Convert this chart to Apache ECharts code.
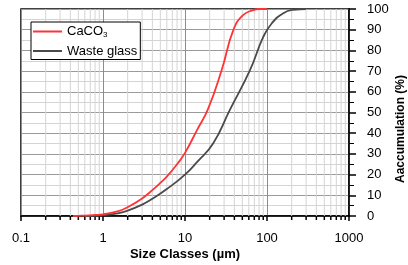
<!DOCTYPE html>
<html>
<head>
<meta charset="utf-8">
<script src="https://cdn.jsdelivr.net/npm/echarts@6/dist/echarts.min.js"></script>
<style>
  html, body { margin: 0; padding: 0; background: #fff; }
  #chart { width: 408px; height: 265px; }
</style>
</head>
<body>
<div id="chart"></div>
<script>
// particle size (µm) vs cumulative passing (%)
const caco3Size = [0.43, 0.5, 0.6, 0.8, 1, 1.5, 2, 3, 4, 5, 6, 8, 10, 14, 19, 28, 39, 51, 68, 80, 100]
const caco3Acc = [0, 0.1, 0.2, 0.5, 0.8, 2.2, 4.3, 8.5, 12.5, 16, 19, 25, 30.5, 41.5, 51.5, 70.5, 90, 97, 99.5, 100, 100]

const glassSize = [0.6, 0.8, 1, 1.5, 2, 3, 4, 6, 10, 14, 22, 35, 62, 90, 114, 158, 209, 300]
const glassAcc = [0, 0.1, 0.3, 1.3, 2.6, 5.5, 8.3, 13, 20, 26, 35, 51, 70.5, 86.5, 93, 98, 99.6, 100]

// minor log ticks 2..9 of each decade
const minorSizes = [
  0.2, 0.3, 0.4, 0.5, 0.6, 0.7, 0.8, 0.9,
  2, 3, 4, 5, 6, 7, 8, 9,
  20, 30, 40, 50, 60, 70, 80, 90,
  200, 300, 400, 500, 600, 700, 800, 900
]

const FONT = 'Liberation Sans, Arial, sans-serif'

const chart = echarts.init(document.getElementById('chart'))

function pair(xs, ys) {
  return xs.map((x, i) => [x, ys[i]])
}

const option = {
  animation: false,
  textStyle: { fontFamily: FONT },
  grid: {
    left: 21,
    right: 59,
    top: 9,
    bottom: 49,
    containLabel: false,
    outerBoundsMode: 'none',
    show: true,
    borderColor: '#000',
    borderWidth: 1.5
  },
  legend: {
    data: [
      { name: 'CaCO3', icon: 'rect' },
      { name: 'Waste glass', icon: 'rect' }
    ],
    orient: 'vertical',
    left: 31,
    top: 22,
    itemWidth: 29,
    itemHeight: 2,
    itemGap: 6,
    padding: [3, 3, 2, 2],
    backgroundColor: '#fff',
    borderColor: '#000',
    borderWidth: 1,
    textStyle: {
      fontFamily: FONT,
      fontSize: 13,
      color: '#000',
      rich: {
        sub: { fontSize: 8, verticalAlign: 'bottom', padding: [6, 0, 0, 0], fontFamily: FONT }
      }
    },
    formatter: (name) => (name === 'CaCO3' ? 'CaCO{sub|3}' : name)
  },
  xAxis: {
    type: 'log',
    logBase: 10,
    min: 0.1,
    max: 1000,
    splitNumber: 4,
    name: 'Size Classes (µm)',
    nameLocation: 'middle',
    nameGap: 32,
    nameMoveOverlap: false,
    nameTextStyle: { fontFamily: FONT, fontSize: 13, fontWeight: 'bold', color: '#000' },
    axisLine: { onZero: false, lineStyle: { color: '#000', width: 1.5 } },
    axisTick: { show: true, inside: false, length: 5, lineStyle: { color: '#000', width: 1.5 } },
    axisLabel: {
      margin: 16,
      fontFamily: FONT,
      fontSize: 13,
      color: '#000',
      formatter: (v) => String(v)
    },
    splitLine: { show: true, lineStyle: { color: '#8c8c8c', width: 1 } }
  },
  yAxis: {
    type: 'value',
    position: 'right',
    min: 0,
    max: 100,
    interval: 10,
    name: 'Aaccumulation (%)',
    nameLocation: 'middle',
    nameRotate: 90,
    nameGap: 52,
    nameMoveOverlap: false,
    nameTextStyle: {
      fontFamily: FONT,
      fontSize: 12,
      fontWeight: 'bold',
      color: '#000',
      align: 'center',
      verticalAlign: 'middle',
      padding: [0, 33, 0, 0]
    },
    axisLine: { show: true, lineStyle: { color: '#000', width: 1.5 } },
    axisTick: { show: true, inside: false, length: 7, lineStyle: { color: '#000', width: 1.5 } },
    minorTick: { show: true, splitNumber: 2, length: 5, lineStyle: { color: '#000', width: 1 } },
    axisLabel: { margin: 18, fontFamily: FONT, fontSize: 13, color: '#000' },
    splitLine: { show: true, lineStyle: { color: '#9a9a9a', width: 1 } },
    minorSplitLine: { show: true, lineStyle: { color: '#d4d4d4', width: 1 } }
  },
  series: [
    {
      name: 'minor',
      type: 'custom',
      silent: true,
      clip: false,
      z: 1,
      data: minorSizes.map((v) => [v, 0]),
      renderItem: (params, api) => {
        const cs = params.coordSys
        const px = api.coord([api.value(0), 0])[0]
        const bottom = cs.y + cs.height
        return {
          type: 'group',
          children: [
            {
              type: 'line',
              shape: { x1: px, y1: cs.y, x2: px, y2: bottom },
              style: { stroke: '#d4d4d4', lineWidth: 1 }
            },
            {
              type: 'line',
              shape: { x1: px, y1: bottom, x2: px, y2: bottom + 4 },
              style: { stroke: '#000', lineWidth: 1.5 }
            }
          ]
        }
      }
    },
    {
      name: 'CaCO3',
      type: 'line',
      z: 4,
      data: pair(caco3Size, caco3Acc),
      symbol: 'none',
      smooth: 0.5,
      lineStyle: { color: '#ff3333', width: 1.8 },
      itemStyle: { color: '#ff3333' }
    },
    {
      name: 'Waste glass',
      type: 'line',
      z: 3,
      data: pair(glassSize, glassAcc),
      symbol: 'none',
      smooth: 0.5,
      lineStyle: { color: '#4a4a4a', width: 1.8 },
      itemStyle: { color: '#4a4a4a' }
    }
  ]
}

chart.setOption(option)
</script>
</body>
</html>
